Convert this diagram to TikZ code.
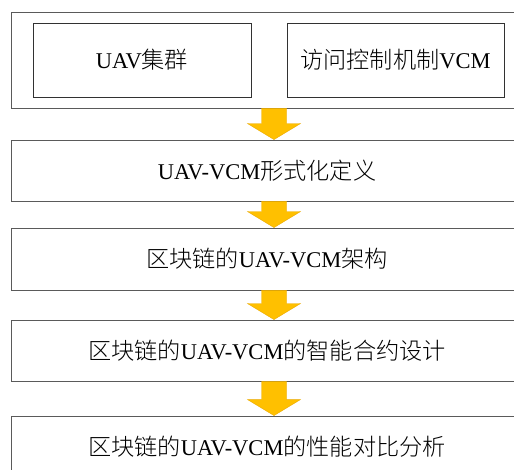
\documentclass[tikz,border=0pt]{standalone}
\usepackage{fontspec}
\setmainfont{Liberation Serif}
\newfontfamily\cjk[Scale=1.03]{Noto Sans CJK SC Light}
\usetikzlibrary{calc}
\definecolor{arrowgold}{RGB}{255,192,0}
\definecolor{arrowedge}{RGB}{235,170,0}
\definecolor{boxline}{RGB}{90,90,90}
\definecolor{innerline}{RGB}{50,50,50}
\tikzset{
  bigbox/.style={draw=boxline, line width=0.9pt, minimum width=512pt, inner sep=0pt,
    font=\fontsize{22.5}{26}\selectfont},
  smallbox/.style={draw=innerline, line width=0.8pt, minimum height=74pt, inner sep=0pt,
    font=\fontsize{22.5}{26}\selectfont},
  fatarrow/.style={fill=arrowgold, draw=arrowedge, line width=0.4pt}
}
\newcommand{\fatarr}[2]{%
  \filldraw[fatarrow] let \p1=([xshift=7pt]#1.south), \p2=([xshift=7pt]#2.north) in
    (\x1-12.5pt,\y1) -- (\x1+12.5pt,\y1) -- (\x1+12.5pt,\y2+16pt)
      -- (\x1+26.5pt,\y2+16pt) -- (\x2,\y2) -- (\x1-26.5pt,\y2+16pt)
      -- (\x1-12.5pt,\y2+16pt) -- cycle;}
\begin{document}
\begin{tikzpicture}[x=1pt,y=-1pt]
\useasboundingbox (0,0) rectangle (514,470);
\clip (0,0) rectangle (514,470);
\fill[white] (0,0) rectangle (514,470);
% nodes
\node[bigbox, minimum height=96pt] (outer) at (267,60) {};
\node[smallbox, minimum width=218pt] (uav) at (142,60) {UAV{\cjk 集群}};
\node[smallbox, minimum width=217pt] (vcm) at (395.5,60) {{\cjk 访问控制机制}VCM};
\node[bigbox, minimum height=61pt] (b2) at (267,170.5) {UAV-VCM{\cjk 形式化定义}};
\node[bigbox, minimum height=62pt] (b3) at (267,259) {{\cjk 区块链的}UAV-VCM{\cjk 架构}};
\node[bigbox, minimum height=61pt] (b4) at (267,350.5) {{\cjk 区块链的}UAV-VCM{\cjk 的智能合约设计}};
\node[bigbox, minimum height=62pt] (b5) at (267,447) {{\cjk 区块链的}UAV-VCM{\cjk 的性能对比分析}};
% arrows
\fatarr{outer}{b2}
\fatarr{b2}{b3}
\fatarr{b3}{b4}
\fatarr{b4}{b5}
\end{tikzpicture}
\end{document}
